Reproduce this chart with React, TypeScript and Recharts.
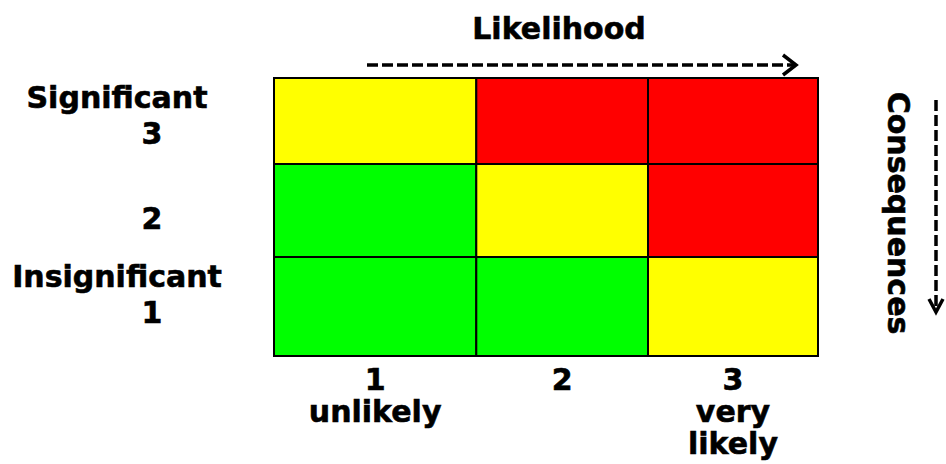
import React from "react";
import {
  ComposedChart,
  XAxis,
  YAxis,
  ReferenceArea,
  Customized,
} from "recharts";

// likelihood columns (left -> right) and consequence rows (bottom -> top)
const likelihoodEdges = [0, 1.19, 2.2, 3.2];
const consequenceEdges = [0, 1.15, 2.23, 3.23];

const likelihoodLabels = [["1", "unlikely"], ["2"], ["3", "very", "likely"]];
const consequenceLabels = [["Insignificant", "1"], ["2"], ["Significant", "3"]];

// riskLevels[consequence][likelihood]
const riskLevels = [
  ["low", "low", "medium"],
  ["low", "medium", "high"],
  ["medium", "high", "high"],
];
const RISK_COLORS: Record<string, string> = {
  low: "#00ff00",
  medium: "#ffff00",
  high: "#ff0000",
};

const FONT = "'DejaVu Sans', Verdana, sans-serif";
const FONT_SIZE = 30;
const textStyle = {
  fontFamily: FONT,
  fontWeight: "bold" as const,
  fontSize: FONT_SIZE,
  fill: "#000",
  stroke: "#000",
  strokeWidth: 0.6,
};

const mids = (edges: number[]) =>
  edges.slice(0, -1).map((e, i) => (e + edges[i + 1]) / 2);
const xCenters = mids(likelihoodEdges);
const yCenters = mids(consequenceEdges);

const cells = riskLevels.flatMap((row, ci) =>
  row.map((level, li) => ({
    x1: likelihoodEdges[li],
    x2: likelihoodEdges[li + 1],
    y1: consequenceEdges[ci],
    y2: consequenceEdges[ci + 1],
    level,
  }))
);

const XTick = ({ x, y, payload }: any) => {
  const idx = xCenters.indexOf(payload.value);
  const lines = likelihoodLabels[idx] || [];
  return (
    <g>
      {lines.map((t, i) => (
        <text key={i} x={x} y={y + 34 + i * 32} textAnchor="middle" style={textStyle}>
          {t}
        </text>
      ))}
    </g>
  );
};

// first-baseline offset of each row label block
const yFirstOffset = [-20, 18, -13];

const YTick = ({ x, y, payload }: any) => {
  const idx = yCenters.indexOf(payload.value);
  const lines = consequenceLabels[idx] || [];
  return (
    <g>
      {lines.map((t, i) => {
        const isNum = /^\d+$/.test(t);
        return (
          <text
            key={i}
            x={isNum ? x - 122 : x - 157}
            y={y + yFirstOffset[idx] + i * 36}
            textAnchor="middle"
            style={textStyle}
          >
            {t}
          </text>
        );
      })}
    </g>
  );
};

const Decorations = () => (
  <g>
    <text x={559} y={39} textAnchor="middle" style={textStyle}>
      Likelihood
    </text>
    <line x1={367} y1={65} x2={794} y2={65} stroke="#000" strokeWidth={3.5} strokeDasharray="11 4" />
    <polyline points="783,55 796,65 783,75" fill="none" stroke="#000" strokeWidth={3.5} />

    <text
      x={898}
      y={213}
      transform="rotate(90 898 213)"
      textAnchor="middle"
      dominantBaseline="central"
      style={textStyle}
    >
      Consequences
    </text>
    <line x1={936} y1={100} x2={936} y2={312} stroke="#000" strokeWidth={3.5} strokeDasharray="11 4" />
    <polyline points="929,299 936,312 943,299" fill="none" stroke="#000" strokeWidth={3.5} />
  </g>
);

const App = () => {
  return (
    <div style={{ position: "absolute", left: 0, top: 0, background: "#fff" }}>
      <ComposedChart
        width={946}
        height={464}
        margin={{ top: 78, right: 128, bottom: 0, left: 0 }}
      >
        <XAxis
          type="number"
          dataKey="x"
          domain={[likelihoodEdges[0], likelihoodEdges[3]]}
          ticks={xCenters}
          interval={0}
          height={108}
          axisLine={false}
          tickLine={false}
          tickSize={0}
          tickMargin={0}
          tick={<XTick />}
          allowDataOverflow
        />
        <YAxis
          type="number"
          dataKey="y"
          domain={[consequenceEdges[0], consequenceEdges[3]]}
          ticks={yCenters}
          interval={0}
          width={274}
          axisLine={false}
          tickLine={false}
          tickSize={0}
          tickMargin={0}
          tick={<YTick />}
          allowDataOverflow
        />
        {cells.map((c, i) => (
          <ReferenceArea
            key={`cell-${i}`}
            x1={c.x1}
            x2={c.x2}
            y1={c.y1}
            y2={c.y2}
            fill={RISK_COLORS[c.level]}
            fillOpacity={1}
            stroke="#000"
            strokeWidth={2}
            ifOverflow="visible"
          />
        ))}
        <Customized component={Decorations} />
      </ComposedChart>
    </div>
  );
};

export default App;
